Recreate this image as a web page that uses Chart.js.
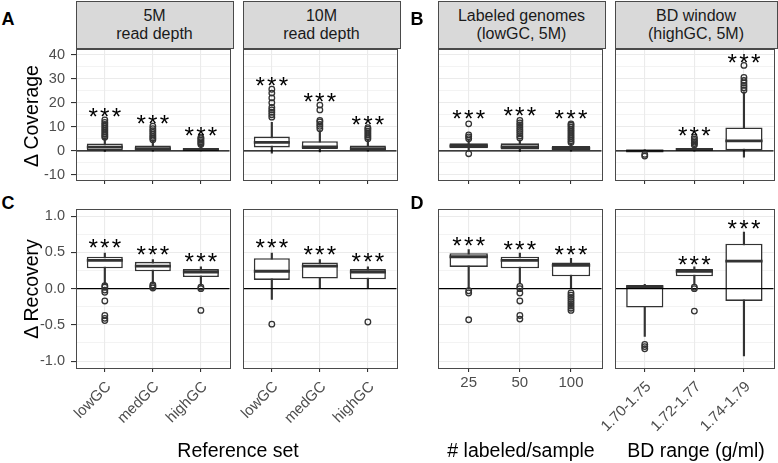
<!DOCTYPE html>
<html>
<head>
<meta charset="utf-8">
<script src="https://cdn.jsdelivr.net/npm/chart.js@4"></script>
<style>
  body { margin: 0; background: #fff; }
  #fig { position: relative; width: 778px; height: 463px; overflow: hidden; font-family: "Liberation Sans", Arial, sans-serif; }
  #fig canvas { position: absolute; }
  .strip { position: absolute; box-sizing: border-box; background: #d9d9d9; border: 1px solid #4a4a4a; }
  .txt { position: absolute; white-space: nowrap; line-height: 1; }
</style>
</head>
<body>
<div id="fig"></div>
<script>
// categories
const refSets = ['lowGC', 'medGC', 'highGC'];
const labeledCounts = ['25', '50', '100'];
const bdRanges = ['1.70-1.75', '1.72-1.77', '1.74-1.79'];

// box stats: [lower whisker, q1, median, q3, upper whisker]
// delta coverage (top row)
const cov5MBox = [[-0.3, 0.1, 1.5, 3.0, 5.4], [-0.2, 0.1, 0.9, 2.2, 4.2], [-0.1, 0.0, 0.5, 1.2, 2.1]];
const cov5MOut = [[5.6, 6.3, 7.0, 7.8, 8.6, 9.4, 10.2, 11.0, 11.8, 12.8], [4.6, 5.3, 6.0, 6.8, 7.6, 8.4, 9.2, 10.2], [2.6, 3.2, 3.8, 4.4, 5.0, 5.5]];
const cov5MStars = [15.9, 12.8, 7.9];

const cov10MBox = [[-1.0, 1.4, 3.5, 5.9, 11.8], [-0.5, 0.8, 1.6, 4.0, 8.4], [-0.2, 0.1, 0.9, 2.2, 4.6]];
const cov10MOut = [[14.0, 15.0, 16.0, 17.0, 18.0, 20.0, 22.0, 24.0, 25.6], [9.2, 10.2, 11.0, 12.0, 12.6, 17.0, 19.0], [5.0, 5.8, 6.6, 7.4, 8.2, 9.0, 9.6]];
const cov10MStars = [28.6, 22.0, 12.5];

const covLabeledBox = [[0.0, 1.1, 2.0, 3.1, 4.4], [-0.3, 0.5, 1.6, 3.1, 4.6], [-0.2, 0.2, 1.0, 2.0, 3.0]];
const covLabeledOut = [[-1.2, 5.0, 5.8, 6.6, 11.2], [5.3, 6.2, 7.1, 8.0, 8.9, 9.8, 10.7, 11.6, 12.6], [3.4, 4.2, 5.0, 5.8, 6.6, 7.4, 8.2, 9.0, 9.8, 10.6, 11.2]];
const covLabeledStars = [14.9, 16.2, 14.9];

const covBdBox = [[-0.6, -0.4, 0.0, 0.3, 0.5], [-0.2, 0.1, 0.6, 1.2, 1.8], [-2.6, 0.0, 4.1, 9.7, 24.5]];
const covBdOut = [[-1.5, -2.2], [2.4, 3.0, 3.6, 4.2, 4.8, 5.6], [25.2, 26.2, 27.2, 28.2, 29.2, 30.5, 35.5]];
const covBdStars = [null, 8.0, 38.5];

// delta recovery (bottom row)
const recRef5MBox = [[0.06, 0.28, 0.39, 0.44, 0.49], [0.08, 0.24, 0.31, 0.37, 0.40], [0.04, 0.16, 0.23, 0.27, 0.30]];
const recRef5MOut = [[0.04, 0.02, -0.02, -0.05, -0.17, -0.37, -0.41, -0.44], [0.05, 0.03, 0.01], [0.02, 0.0, -0.30]];
const recRef5MStars = [0.62, 0.53, 0.43];

const recRef10MBox = [[-0.15, 0.12, 0.24, 0.42, 0.49], [0.0, 0.14, 0.31, 0.36, 0.40], [0.0, 0.13, 0.23, 0.27, 0.30]];
const recRef10MOut = [[-0.49], [], [-0.46]];
const recRef10MStars = [0.62, 0.53, 0.43];

const recLabeledBox = [[0.0, 0.30, 0.44, 0.49, 0.54], [0.07, 0.28, 0.39, 0.44, 0.49], [0.0, 0.17, 0.32, 0.36, 0.42]];
const recLabeledOut = [[-0.03, -0.06, -0.43], [0.03, 0.0, -0.06, -0.17, -0.37, -0.42], [-0.06, -0.09, -0.12, -0.15, -0.18, -0.21, -0.24, -0.27, -0.30]];
const recLabeledStars = [0.65, 0.59, 0.52];

const recBdBox = [[-0.66, -0.26, 0.03, 0.04, 0.06], [0.06, 0.17, 0.24, 0.27, 0.30], [-0.93, -0.17, 0.38, 0.62, 0.78]];
const recBdOut = [[-0.77, -0.80, -0.83], [0.02, 0.0, -0.31], []];
const recBdStars = [null, 0.39, 0.88];

// strip labels
const stripLabels = [['5M', 'read depth'], ['10M', 'read depth'], ['Labeled genomes', '(lowGC, 5M)'], ['BD window', '(highGC, 5M)']];

// layout
const colX = [[76, 233], [243, 400], [438, 605], [615, 777]];
const rowY = [[48, 180], [208, 368]];
const rowYRange = [[-12.14, 42.2], [-1.095, 1.095]];
const rowStep = [5, 0.25];
const rowMajor = [10, 0.5];
const rowDecimals = [0, 1];

const fig = document.getElementById('fig');
Chart.defaults.font.family = '"Liberation Sans", Arial, sans-serif';

function isMult(v, m) {
    return Math.abs(v / m - Math.round(v / m)) < 1e-6;
}

function addText(str, x, baseline, size, opts = {}) {
    const d = document.createElement('div');
    d.className = 'txt';
    d.textContent = str;
    d.style.fontSize = size + 'px';
    d.style.color = opts.color || '#000';
    if (opts.bold) d.style.fontWeight = 'bold';
    if (opts.rotate) {
        // x is the baseline position, baseline is the vertical centre
        d.style.left = (x - 0.3465 * size) + 'px';
        d.style.top = baseline + 'px';
        d.style.transform = 'translate(-50%,-50%) rotate(-90deg)';
    } else {
        d.style.left = x + 'px';
        d.style.top = (baseline - 0.8465 * size) + 'px';
        if (opts.center) d.style.transform = 'translateX(-50%)';
    }
    fig.appendChild(d);
}

function zeroPad(s) {
    s.paddingLeft = 0; s.paddingRight = 0; s.paddingTop = 0; s.paddingBottom = 0;
}

// three asterisks, sized and centred on their glyph box
function drawStars(ctx, cx, cy) {
    const fam = '"Liberation Sans", Arial, sans-serif';
    ctx.font = '100px ' + fam;
    const m = ctx.measureText('*');
    const w100 = m.actualBoundingBoxLeft + m.actualBoundingBoxRight;
    const fs = 100 * 9 / w100;
    const k = fs / 100;
    ctx.font = fs + 'px ' + fam;
    ctx.textAlign = 'left';
    ctx.textBaseline = 'alphabetic';
    const dx = (m.actualBoundingBoxLeft - m.actualBoundingBoxRight) / 2 * k;
    const dy = (m.actualBoundingBoxAscent - m.actualBoundingBoxDescent) / 2 * k;
    [-11.7, 0, 11.7].forEach(off => ctx.fillText('*', cx + off + dx, cy + dy));
}

function makePanel(p) {
    const [x0, x1] = colX[p.col];
    const [y0, y1] = rowY[p.row];
    const L = 45, R = 2, T = 4;
    const B = p.row === 0 ? 20 : 463 - y1;
    const showY = p.col === 0;
    const major = rowMajor[p.row], step = rowStep[p.row];

    const cv = document.createElement('canvas');
    cv.width = L + (x1 - x0) + R;
    cv.height = T + (y1 - y0) + B;
    cv.style.left = (x0 - L) + 'px';
    cv.style.top = (y0 - T) + 'px';
    fig.appendChild(cv);

    const whiskers = p.box.map((b, i) => ({ x: i + 1, y: [b[0], b[4]] }));
    const boxes = p.box.map((b, i) => ({ x: i + 1, y: [b[1], b[3]] }));
    const outliers = [];
    p.out.forEach((arr, i) => arr.forEach(v => outliers.push({ x: i + 1, y: v })));

    const extras = {
        id: 'boxExtras',
        afterDatasetDraw(chart, args) {
            if (args.index !== 1) return;
            const ctx = chart.ctx, ys = chart.scales.y, a = chart.chartArea;
            ctx.save();
            ctx.beginPath();
            ctx.rect(a.left, a.top, a.right - a.left, a.bottom - a.top);
            ctx.clip();
            ctx.strokeStyle = '#333';
            ctx.lineWidth = 2.8;
            args.meta.data.forEach((bar, i) => {
                const y = ys.getPixelForValue(p.box[i][2]);
                ctx.beginPath();
                ctx.moveTo(bar.x - bar.width / 2, y);
                ctx.lineTo(bar.x + bar.width / 2, y);
                ctx.stroke();
            });
            const z = ys.getPixelForValue(0);
            ctx.strokeStyle = '#000';
            ctx.lineWidth = 1.3;
            ctx.beginPath();
            ctx.moveTo(a.left, z);
            ctx.lineTo(a.right, z);
            ctx.stroke();
            ctx.restore();
        },
        afterDatasetsDraw(chart) {
            const ctx = chart.ctx, xs = chart.scales.x, ys = chart.scales.y;
            ctx.save();
            ctx.fillStyle = '#000';
            p.stars.forEach((v, i) => {
                if (v === null) return;
                drawStars(ctx, xs.getPixelForValue(i + 1), ys.getPixelForValue(v));
            });
            ctx.restore();
        },
        afterDraw(chart) {
            const ctx = chart.ctx, a = chart.chartArea;
            ctx.save();
            ctx.strokeStyle = '#4a4a4a';
            ctx.lineWidth = 1;
            ctx.strokeRect(Math.round(a.left) + 0.5, Math.round(a.top) + 0.5,
                Math.round(a.right - a.left), Math.round(a.bottom - a.top));
            ctx.restore();
        }
    };

    new Chart(cv.getContext('2d'), {
        type: 'bar',
        data: {
            datasets: [
                {
                    data: whiskers,
                    backgroundColor: '#333',
                    borderWidth: 0,
                    barThickness: 1.5,
                    grouped: false,
                    order: 2
                },
                {
                    data: boxes,
                    backgroundColor: '#fff',
                    borderColor: '#333',
                    borderWidth: 1.6,
                    borderSkipped: false,
                    categoryPercentage: 1,
                    barPercentage: 0.75,
                    grouped: false,
                    order: 1
                },
                {
                    type: 'scatter',
                    data: outliers,
                    pointStyle: 'circle',
                    pointRadius: 2.8,
                    borderWidth: 1.3,
                    borderColor: '#333',
                    backgroundColor: 'rgba(0,0,0,0)',
                    order: 0
                }
            ]
        },
        options: {
            responsive: false,
            animation: false,
            devicePixelRatio: 1,
            events: [],
            layout: { padding: { left: 0, top: T, right: R, bottom: 0 } },
            plugins: { legend: { display: false }, tooltip: { enabled: false } },
            scales: {
                x: {
                    type: 'linear',
                    min: 0.4,
                    max: 3.6,
                    offset: false,
                    afterBuildTicks: s => { s.ticks = [1, 2, 3].map(v => ({ value: v })); },
                    afterFit: s => { s.height = B; zeroPad(s); },
                    border: { display: false },
                    grid: { offset: false, color: '#ebebeb', lineWidth: 1.1, drawTicks: true, tickLength: 4, tickColor: '#333' },
                    ticks: {
                        display: p.row === 1,
                        autoSkip: false,
                        minRotation: p.rot,
                        maxRotation: p.rot,
                        padding: p.rot ? 6 : 2,
                        labelOffset: p.rot ? 4 : 0,
                        color: '#4d4d4d',
                        font: { size: 15 },
                        callback: v => p.cats[Math.round(v) - 1]
                    }
                },
                y: {
                    min: rowYRange[p.row][0],
                    max: rowYRange[p.row][1],
                    afterFit: s => { s.width = L; zeroPad(s); },
                    border: { display: false },
                    grid: {
                        color: c => isMult(c.tick.value, step) ? '#ebebeb' : 'rgba(0,0,0,0)',
                        lineWidth: c => isMult(c.tick.value, major) ? 1.1 : 0.6,
                        drawTicks: showY,
                        tickLength: 5,
                        tickColor: c => isMult(c.tick.value, major) ? '#333' : 'rgba(0,0,0,0)'
                    },
                    ticks: {
                        display: showY,
                        stepSize: step,
                        includeBounds: false,
                        autoSkip: false,
                        padding: 6,
                        color: '#4d4d4d',
                        font: { size: 14.5 },
                        callback: v => isMult(v, major) ? v.toFixed(rowDecimals[p.row]) : ''
                    }
                }
            }
        },
        plugins: [extras]
    });
}

// strips
colX.forEach(([x0, x1], i) => {
    const s = document.createElement('div');
    s.className = 'strip';
    s.style.left = x0 + 'px';
    s.style.width = (x1 - x0 + 1) + 'px';
    s.style.top = '1px';
    s.style.height = '48px';
    fig.appendChild(s);
    const cx = (x0 + x1) / 2;
    addText(stripLabels[i][0], cx, 22, 16, { center: true, color: '#1a1a1a' });
    addText(stripLabels[i][1], cx, 39.3, 16, { center: true, color: '#1a1a1a' });
});

const panels = [
    { row: 0, col: 0, cats: refSets, rot: 45, box: cov5MBox, out: cov5MOut, stars: cov5MStars },
    { row: 0, col: 1, cats: refSets, rot: 45, box: cov10MBox, out: cov10MOut, stars: cov10MStars },
    { row: 0, col: 2, cats: labeledCounts, rot: 0, box: covLabeledBox, out: covLabeledOut, stars: covLabeledStars },
    { row: 0, col: 3, cats: bdRanges, rot: 45, box: covBdBox, out: covBdOut, stars: covBdStars },
    { row: 1, col: 0, cats: refSets, rot: 45, box: recRef5MBox, out: recRef5MOut, stars: recRef5MStars },
    { row: 1, col: 1, cats: refSets, rot: 45, box: recRef10MBox, out: recRef10MOut, stars: recRef10MStars },
    { row: 1, col: 2, cats: labeledCounts, rot: 0, box: recLabeledBox, out: recLabeledOut, stars: recLabeledStars },
    { row: 1, col: 3, cats: bdRanges, rot: 45, box: recBdBox, out: recBdOut, stars: recBdStars }
];
panels.forEach(makePanel);

// panel letters
addText('A', 1.5, 25.5, 18, { bold: true });
addText('B', 410.5, 25.5, 18, { bold: true });
addText('C', 1.5, 209, 18, { bold: true });
addText('D', 410.5, 209, 18, { bold: true });

// axis titles
addText('\u0394 Coverage', 39, 115.5, 19.5, { rotate: true });
addText('\u0394 Recovery', 39, 289, 19.5, { rotate: true });
addText('Reference set', 238, 457.3, 19.5, { center: true });
addText('# labeled/sample', 521, 457.8, 19.5, { center: true });
addText('BD range (g/ml)', 696, 457.8, 19.5, { center: true });
</script>
</body>
</html>
